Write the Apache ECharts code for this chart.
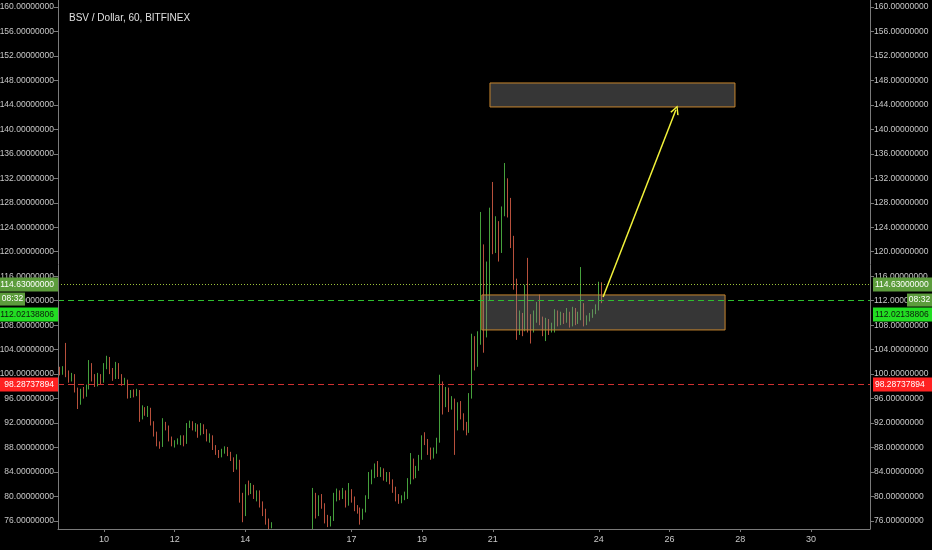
<!DOCTYPE html>
<html><head><meta charset="utf-8">
<script src="https://cdn.jsdelivr.net/npm/echarts@6/dist/echarts.min.js"></script>
<style>html,body{margin:0;padding:0;background:#000}#c{width:932px;height:550px}</style>
</head><body><div id="c"></div>
<script>
// ---- data ----
const chartTitle = 'BSV / Dollar, 60, BITFINEX';
const startDay = 8.75;          // first candle (day of month, Nov)
const stepDay = 1 / 12;         // 2-hour candles
const xTickDays = [10, 12, 14, 17, 19, 21, 24, 26, 28, 30];
const yTicks = [76, 80, 84, 88, 92, 96, 100, 104, 108, 112, 116, 120, 124, 128, 132, 136, 140, 144, 148, 152, 156, 160];
// [open, close, low, high]
const ohlc = [
[100.8,100.2,99.8,101.2],[100.2,100.9,99.9,101.3],[100.9,100.0,99.5,105.1],[100.0,99.2,98.6,100.6],[99.2,99.8,98.8,100.2],
[99.8,97.5,97.0,100.0],[97.5,95.2,94.3,97.8],[95.2,97.0,95.0,97.6],[97.0,96.6,96.0,97.9],[96.6,97.8,96.3,98.3],
[97.8,101.5,97.5,102.3],[101.5,99.5,98.8,101.8],[99.5,98.4,97.9,100.0],[98.4,99.6,98.0,100.2],[99.6,98.8,98.3,100.0],
[98.8,101.2,98.6,101.8],[101.2,102.4,100.8,103.0],[102.4,100.6,100.0,102.8],[100.6,99.4,98.9,101.0],[99.4,101.5,99.2,102.0],
[101.5,99.8,99.2,101.8],[99.8,98.6,98.1,100.0],[98.6,98.9,98.2,99.4],[98.9,96.4,96.0,99.1],[96.4,97.0,96.1,97.4],
[97.0,96.8,96.2,97.5],[96.8,97.2,96.4,97.6],[97.2,92.8,92.2,97.4],[92.8,94.2,92.6,94.9],[94.2,93.6,93.2,94.6],
[93.6,94.3,93.0,94.8],[94.3,92.0,91.6,94.5],[92.0,90.2,89.8,92.3],[90.2,88.6,88.2,90.6],[88.6,88.3,87.8,89.0],
[88.3,91.8,88.1,92.8],[91.8,91.2,90.8,92.2],[91.2,89.4,89.0,91.6],[89.4,88.6,88.2,89.8],[88.6,88.8,88.0,89.2],
[88.8,89.1,88.5,89.5],[89.1,89.6,88.4,90.0],[89.6,88.8,88.2,90.0],[88.8,91.6,88.6,92.0],[91.6,91.9,91.2,92.4],
[91.9,91.2,90.8,92.3],[91.2,91.6,90.6,92.0],[91.6,90.2,89.6,91.8],[90.2,91.5,90.0,92.0],[91.5,90.8,90.2,91.8],
[90.8,89.4,89.0,91.0],[89.4,89.8,88.8,90.3],[89.8,88.0,87.6,90.0],[88.0,87.2,86.8,88.4],[87.2,86.6,86.3,87.6],
[86.6,87.4,86.4,87.8],[87.4,87.8,87.0,88.2],[87.8,87.0,86.6,88.1],[87.0,86.2,85.8,87.3],[86.2,84.6,84.0,86.4],
[84.6,85.8,84.4,86.9],[85.8,80.2,79.0,86.0],[80.2,77.0,75.8,80.6],[77.0,81.4,76.8,82.0],[81.4,80.8,80.2,82.6],
[80.8,81.6,80.4,82.2],[81.6,80.2,79.6,81.9],[80.2,80.6,79.2,81.0],[80.6,78.8,78.2,81.0],[78.8,77.6,76.8,79.2],
[77.6,76.0,75.4,78.0],[76.0,75.0,74.6,76.4],[75.0,75.3,74.8,75.8],
[74.5,73.2,72.6,74.6],[73.2,72.0,71.4,73.6],[72.0,72.6,71.6,73.0],[72.6,71.2,70.6,72.8],[71.2,70.4,69.8,71.6],
[70.4,71.0,70.0,71.4],[71.0,70.2,69.6,71.4],[70.2,71.4,70.0,71.8],[71.4,72.2,71.0,72.6],[72.2,71.6,71.0,72.8],
[71.6,72.8,71.2,73.4],[72.8,73.6,72.4,74.2],[73.6,73.8,73.2,74.4],
[73.8,79.6,73.5,81.4],[79.6,77.2,76.4,80.6],[77.2,79.8,76.8,80.2],[79.8,78.6,78.0,80.4],[78.6,76.4,75.6,78.9],
[76.4,75.6,75.0,77.0],[75.6,76.2,75.1,76.8],[76.2,79.6,76.0,80.6],[79.6,80.4,79.2,81.3],[80.4,79.8,79.4,81.0],
[79.8,80.8,79.6,81.4],[80.8,78.8,78.2,81.0],[78.8,80.6,78.5,82.2],[80.6,79.6,79.0,81.2],[79.6,78.2,77.6,80.0],
[78.2,77.8,77.2,78.6],[77.8,76.6,75.4,78.2],[76.6,77.6,76.2,78.0],[77.6,79.8,77.4,80.2],[79.8,82.6,79.6,84.0],
[82.6,83.4,82.0,84.4],[83.4,84.8,83.0,85.4],[84.8,83.6,83.2,85.8],[83.6,84.2,83.2,84.8],[84.2,83.0,82.6,84.6],
[83.0,83.6,82.4,84.0],[83.6,82.4,82.0,84.0],[82.4,81.2,80.6,82.8],[81.2,79.8,79.2,81.6],[79.8,79.2,78.8,80.4],
[79.2,79.8,78.9,80.2],[79.8,80.3,79.4,80.8],[80.3,82.4,79.6,83.0],[82.4,85.8,82.0,87.1],[85.8,83.4,82.8,86.2],
[83.4,84.6,83.0,85.0],[84.6,86.4,84.2,86.8],[86.4,89.6,86.0,90.0],[89.6,88.8,88.4,90.5],[88.8,87.2,86.8,89.4],
[87.2,86.6,86.0,88.0],[86.6,87.4,86.2,88.0],[87.4,89.0,87.0,89.6],[89.0,98.6,88.8,99.9],[98.6,95.0,93.4,98.8],
[95.0,97.4,94.6,97.9],[97.4,94.6,93.8,97.8],[94.6,95.8,94.2,96.4],[95.8,91.4,86.8,96.0],[91.4,94.8,90.8,95.4],
[94.8,93.2,92.6,95.6],[93.2,91.6,90.8,93.6],[91.6,90.6,90.0,92.2],[90.6,96.4,90.4,96.9],[96.4,104.8,96.0,106.6],
[104.8,102.8,100.6,106.2],[102.8,105.6,101.2,107.0],[105.6,119.6,104.8,126.5],[119.6,113.2,103.5,121.2],[113.2,116.8,106.0,118.4],
[116.8,126.0,112.0,127.2],[129.8,121.0,119.6,131.4],[121.0,124.6,119.8,125.8],[124.6,120.2,118.4,125.0],[120.2,126.6,119.8,127.4],
[126.6,131.6,125.8,134.5],[131.6,127.6,125.6,132.0],[127.6,122.0,120.6,128.8],[122.0,115.2,113.8,122.6],[115.2,108.0,105.6,115.6],
[108.0,109.2,106.4,110.4],[109.2,107.4,106.2,110.0],[107.4,113.6,107.0,114.6],[113.6,108.6,106.8,119.0],[108.6,107.6,105.0,109.8],
[107.6,109.8,106.8,110.4],[109.8,111.2,108.4,111.8],[111.2,108.6,108.0,113.0],[108.6,107.8,106.2,109.4],[107.8,108.4,105.4,109.2],
[108.4,107.2,106.4,109.0],[107.2,107.6,106.8,108.4],[107.6,110.0,106.8,110.6],[110.0,108.4,107.8,110.4],[108.4,109.6,108.0,110.2],
[109.6,108.8,108.2,110.0],[108.8,109.8,108.4,110.8],[109.8,108.2,107.6,110.2],[108.2,110.4,107.8,111.0],[110.4,108.6,108.0,110.8],
[108.6,109.6,108.2,110.2],[109.6,111.2,108.8,117.5],[111.2,108.4,107.8,111.6],[108.4,109.0,108.0,109.6],[109.0,109.6,108.6,110.0],
[109.6,110.2,109.2,110.6],[110.2,110.8,109.8,111.4],[110.8,114.6,110.4,115.1],[114.6,112.0,111.6,115.0]
];
const dottedLevel = 114.63;
const lastPrice = 112.02138806;
const supportLevel = 98.28737894;
const countdownText = '08:32';
const targetZone = [[20.92, 147.58], [27.85, 143.66]];
const baseZone = [[20.69, 112.94], [27.57, 107.22]];
const arrowPath = [[24.12, 112.6], [26.18, 143.2]];

// ---- chart ----
const FONT = "'Liberation Sans',Arial,sans-serif";
const candleData = ohlc.map((c, i) => [startDay + i * stepDay, c[0], c[1], c[2], c[3]]);
const chart = echarts.init(document.getElementById('c'), null, {renderer: 'canvas'});
const yMin = 74.69, yMax = 161.14;
const yAxisCommon = {
  type: 'value', min: yMin, max: yMax, scale: true, z: 10,
  axisLine: {show: true, lineStyle: {color: '#7a7a7a', width: 1}},
  axisTick: {show: true, length: 4, lineStyle: {color: '#7a7a7a'}, customValues: yTicks},
  axisLabel: {color: '#c8c8c8', fontSize: 8.5, fontFamily: FONT, margin: 4, customValues: yTicks,
              formatter: v => Number(v).toFixed(8)},
  splitLine: {show: false}
};
chart.setOption({
  backgroundColor: '#000',
  animation: false,
  title: {text: chartTitle, left: 64, top: 8, textStyle: {color: '#e0e0e0', fontSize: 10, fontWeight: 'normal', fontFamily: FONT}},
  grid: {left: 58, right: 62, top: 0, bottom: 21, containLabel: false, outerBoundsMode: 'none'},
  xAxis: {
    type: 'value', min: 8.70, max: 31.67, z: 10,
    axisLine: {show: true, lineStyle: {color: '#7a7a7a'}},
    axisTick: {show: true, length: 3, lineStyle: {color: '#7a7a7a'}, customValues: xTickDays},
    axisLabel: {color: '#c8c8c8', fontSize: 9, fontFamily: FONT, margin: 6, customValues: xTickDays,
                formatter: v => String(Math.round(v))},
    splitLine: {show: false}
  },
  yAxis: [Object.assign({position: 'left'}, yAxisCommon), Object.assign({position: 'right'}, yAxisCommon)],
  series: [{
    type: 'candlestick',
    data: candleData,
    encode: {x: 0, y: [1, 2, 3, 4]},
    barWidth: 1.2,
    clip: true,
    itemStyle: {color: '#45a03c', color0: '#b8503c', borderColor: '#45a03c', borderColor0: '#b8503c', borderWidth: 1},
    markArea: {
      silent: true, z: 5,
      itemStyle: {color: 'rgba(128,128,128,0.42)', borderColor: '#c8862e', borderWidth: 1},
      data: [
        [{coord: targetZone[0]}, {coord: targetZone[1]}],
        [{coord: baseZone[0]}, {coord: baseZone[1]}]
      ]
    },
    markLine: {
      silent: true, symbol: ['none', 'none'], label: {show: false}, animation: false,
      data: [
        {yAxis: dottedLevel, lineStyle: {color: '#9cc23a', type: [1, 2], width: 1}},
        {yAxis: lastPrice, lineStyle: {color: '#2fbf2f', type: [6, 4], width: 1}},
        {yAxis: supportLevel, lineStyle: {color: '#d03030', type: [6, 4], width: 1}},
        [{coord: arrowPath[0], symbol: 'none', lineStyle: {color: '#f2f23a', width: 1.5, type: 'solid'}},
         {coord: arrowPath[1], symbol: 'path://M0,10 L5,0 L10,10 L8.4,10.6 L5,3.2 L1.6,10.6 Z', symbolSize: [9, 9]}]
      ]
    }
  }]
});

// price label boxes on both axes, and a mask below the plot area
function boxes() {
  const yOf = v => chart.convertToPixel({yAxisIndex: 0}, v);
  const els = [];
  const gridBottom = yOf(yMin);
  els.push({type: 'rect', z: 5, silent: true,
    shape: {x: 58, y: gridBottom + 0.5, width: 812, height: 550 - gridBottom}, style: {fill: '#000'}});
  function box(x, y, w, h, fill, txt, txtColor, align, tx) {
    els.push({type: 'rect', z: 100, shape: {x: x, y: y, width: w, height: h}, style: {fill: fill}});
    els.push({type: 'text', z: 101, x: tx, y: y + h / 2,
      style: {text: txt, fill: txtColor, font: '8.5px ' + FONT, textAlign: align, textVerticalAlign: 'middle'}});
  }
  const yd = yOf(dottedLevel), yl = yOf(lastPrice), ys = yOf(supportLevel);
  // left side
  box(0, yd - 7, 58, 14, '#5c9c3c', dottedLevel.toFixed(8), '#ffffff', 'right', 54);
  box(0, yl - 8, 25, 13, '#5c9c3c', countdownText, '#ffffff', 'center', 12.5);
  box(0, yl + 7, 58, 14, '#22dd22', lastPrice.toFixed(8), '#0c1c0c', 'right', 54);
  box(0, ys - 7, 58, 14, '#ff2222', supportLevel.toFixed(8), '#ffffff', 'right', 54);
  // right side
  box(873, yd - 7, 59, 14, '#5c9c3c', dottedLevel.toFixed(8), '#ffffff', 'left', 875);
  box(907, yl - 7, 25, 13, '#5c9c3c', countdownText, '#ffffff', 'center', 919.5);
  box(873, yl + 7, 59, 14, '#22dd22', lastPrice.toFixed(8), '#0c1c0c', 'left', 875);
  box(873, ys - 7, 59, 14, '#ff2222', supportLevel.toFixed(8), '#ffffff', 'left', 875);
  chart.setOption({graphic: els});
}
boxes();
</script>
</body></html>
